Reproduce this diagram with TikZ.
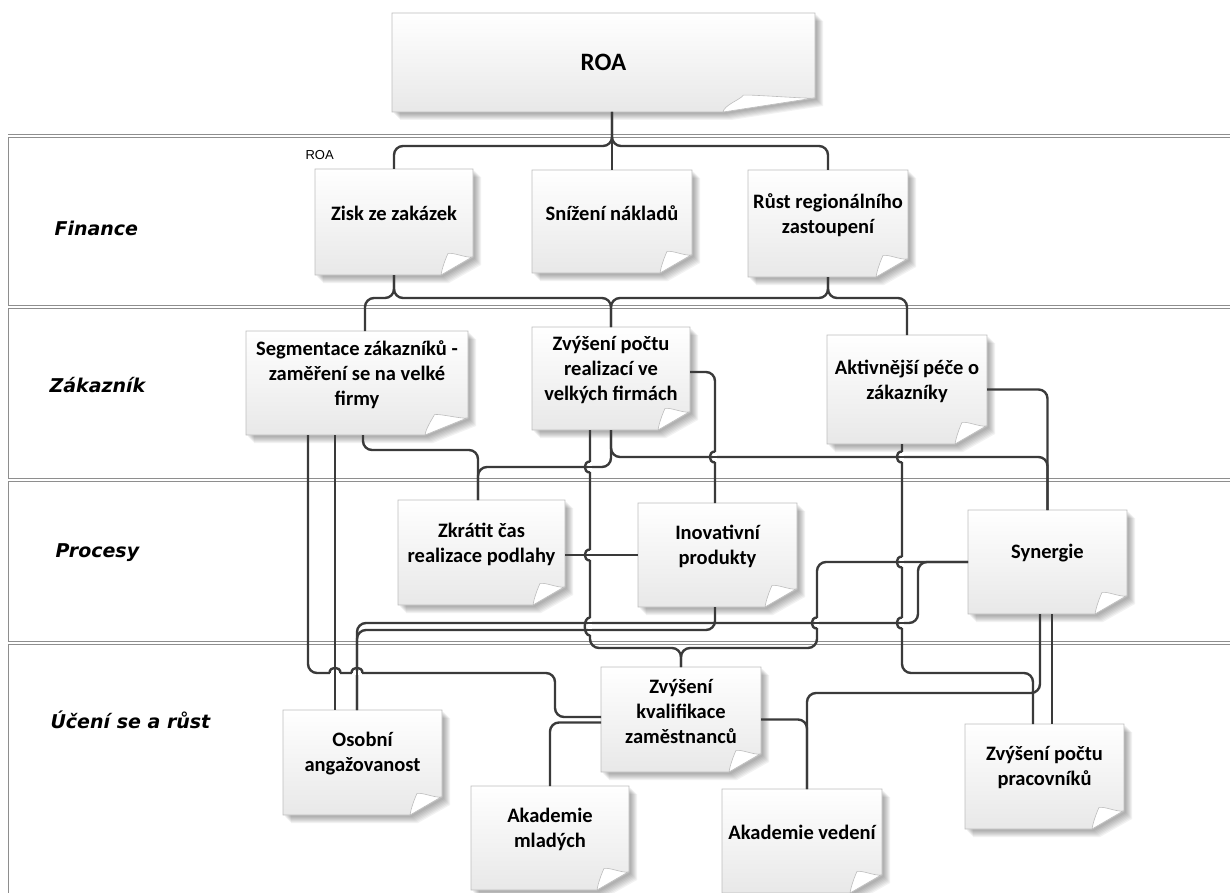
\documentclass[tikz,border=0pt]{standalone}
\usepackage{fontspec}
\setmainfont{Carlito}
\newfontfamily\lanefont{DejaVu Sans}
\newfontfamily\poolfont{Liberation Sans}
\usetikzlibrary{calc}
\pgfdeclarelayer{lanes}
\pgfdeclarelayer{paper}
\pgfsetlayers{lanes,paper,main}

\definecolor{wire}{HTML}{3A3A3A}
\definecolor{laneline}{HTML}{8E8E8E}
\definecolor{edge}{HTML}{BDBDBD}
\definecolor{shade}{HTML}{E8E8E8}

\tikzset{
  conn/.style={draw=wire, line width=2.4pt, rounded corners=9pt},
  stub/.style={draw=wire, line width=2.4pt},
  card/.style={inner sep=0pt, outer sep=0pt, align=center,
    font=\bfseries\fontsize{20.5}{25}\selectfont},
  lanetitle/.style={anchor=west,
    font=\lanefont\bfseries\itshape\fontsize{19}{22}\selectfont},
  lanesep/.style={draw=laneline, line width=0.7pt, double=white, double distance=2.6pt},
}

% a sticky-note card: name, centre x, centre y, width, height, text
\newcommand\card[6]{%
  \node[card, minimum width=#4pt, minimum height=#5pt] (#1) at (#2,#3)
    {\parbox{\dimexpr#4pt-6pt\relax}{\centering #6\par\vspace*{17pt}}};}

% paper, soft shadow and curled corner behind a card: name, fold width, fold height
\newcommand\paper[3]{%
  \begin{pgfonlayer}{paper}
    \foreach \s in {1,...,7}{
      \fill[black, opacity=0.05]
        ($(#1.north west)+({\s*1pt+1pt},{-\s*1pt-1pt})$) --
        ($(#1.north east)+({\s*1pt+1pt},{-\s*1pt-1pt})$) --
        ($(#1.south east)+({\s*1pt+1pt},{#3pt-\s*1pt-1pt})$) --
        ($(#1.south east)+({\s*1pt+1pt-#2pt},{-\s*1pt-1pt})$) --
        ($(#1.south west)+({\s*1pt+1pt},{-\s*1pt-1pt})$) -- cycle;
    }
    \shadedraw[top color=white, middle color=white, bottom color=shade, draw=edge, line width=0.8pt]
      (#1.north west) -- (#1.north east) -- ($(#1.south east)+(0pt,#3pt)$) --
      ($(#1.south east)+(-#2pt,0pt)$) -- (#1.south west) -- cycle;
    \filldraw[fill=white, draw=edge, line width=0.6pt]
      ($(#1.south east)+(-#2pt,0pt)$) .. controls +(1pt,7pt) and +(-2pt,-4pt) ..
      ($(#1.south east)+({-0.78*#2pt},{1.2*#3pt})$) .. controls +(6pt,1pt) and +(-6pt,-1pt) ..
      ($(#1.south east)+(-1pt,#3pt)$) -- cycle;
  \end{pgfonlayer}}

% line jumps: a vertical wire bowing left over horizontal wires at y=#2..#3
\newcommand\hopv[3]{%
  \fill[white] (#1-2.2,#2-5) rectangle (#1+2.2,#3+5);
  \draw[stub] (#1-2.6,#2) -- (#1+2.6,#2);
  \draw[stub] (#1-2.6,#3) -- (#1+2.6,#3);
  \draw[stub] (#1,#2-5.5) .. controls (#1-7,#2-5.5) and (#1-7,#3+5.5) .. (#1,#3+5.5);}
% a horizontal wire bowing upward over a vertical wire at x=#1
\newcommand\hoph[2]{%
  \fill[white] (#1-5,#2-2.2) rectangle (#1+5,#2+2.2);
  \draw[stub] (#1,#2-2.6) -- (#1,#2+2.6);
  \draw[stub] (#1-5.5,#2) .. controls (#1-5.5,#2-7) and (#1+5.5,#2-7) .. (#1+5.5,#2);}

\begin{document}
\begin{tikzpicture}[x=1pt,y=-1pt]
\useasboundingbox (0,0) rectangle (1230,893);

% swimlanes
\begin{pgfonlayer}{lanes}
  \draw[laneline, line width=0.8pt] (8,135) -- (8,893);
  \foreach \y in {136,307,480,643} \draw[lanesep] (8,\y) -- (1230,\y);
\end{pgfonlayer}

\node[lanetitle] (lfin) at (51,228) {Finance};
\node[lanetitle] (lzak) at (46,385) {Zákazník};
\node[lanetitle] (lpro) at (52,553) {Procesy};
\node[lanetitle] (lucen) at (47,720) {Účení se a růst};
\node[anchor=west, font=\poolfont\fontsize{13}{15}\selectfont] (pool) at (302,155) {ROA};

% cards
\node[card, minimum width=423pt, minimum height=99pt, font=\bfseries\fontsize{25}{30}\selectfont]
  (roa) at (603.5,62.5) {ROA};
\card{zisk}{394}{222}{158}{106}{Zisk ze zakázek}
\card{sniz}{612}{221.5}{160}{103}{Snížení nákladů}
\card{rust}{828}{223.5}{160}{107}{Růst regionálního\\zastoupení}
\card{segm}{357}{383}{222}{104}{Segmentace zákazníků -\\zaměření se na velké\\firmy}
\card{zvpo}{611}{378.5}{158}{103}{Zvýšení počtu\\realizací ve\\velkých firmách}
\card{aktiv}{907}{389.5}{160}{109}{Aktivnější péče o\\zákazníky}
\card{zkrat}{481.5}{552.5}{167}{105}{Zkrátit čas\\realizace podlahy}
\card{inov}{717.5}{555}{159}{104}{Inovativní\\produkty}
\card{syner}{1047.5}{562}{159}{104}{Synergie}
\card{kval}{681}{719.5}{160}{105}{Zvýšení\\kvalifikace\\zaměstnanců}
\card{osob}{362.5}{762.5}{159}{105}{Osobní\\angažovanost}
\card{akml}{550}{838}{158}{104}{Akademie\\mladých}
\card{akved}{802}{841}{160}{104}{Akademie vedení}
\card{prac}{1044.5}{776.5}{159}{105}{Zvýšení počtu\\pracovníků}

\paper{roa}{92}{14}
\paper{segm}{43}{17}
\foreach \n in {zisk,sniz,rust,zvpo,aktiv,zkrat,inov,syner,kval,osob,akml,akved,prac}
  {\paper{\n}{32}{18}}

% connectors
\draw[conn] (roa.south -| sniz.north) -- (sniz.north);
\draw[conn] (roa.south -| sniz.north) -- (612,146) -| (zisk.north);
\draw[conn] (roa.south -| sniz.north) -- (612,146) -| (rust.north);

\draw[conn] (zisk.south) -- (394,298) -| ([xshift=8pt]segm.north);
\draw[conn] (zisk.south) -- (394,298) -| (zvpo.north);
\draw[conn] (rust.south) -- (828,298) -| (zvpo.north);
\draw[conn] (rust.south) -- (828,298) -| (aktiv.north);

\draw[conn] ([xshift=6pt]segm.south) -- (363,450) -| ([xshift=-3.5pt]zkrat.north);
\draw[conn] (zvpo.south) -- (611,467) -| ([xshift=-3.5pt]zkrat.north);
\draw[conn] (zvpo.south) -- (611,457) -| (syner.north);
\draw[conn] (aktiv.east) -| (syner.north);
\draw[conn] ([yshift=6.5pt]zvpo.east) -| ([xshift=-2.5pt]inov.north);
\draw[conn] (zkrat.east |- inov.west) -- (inov.west);
\draw[conn] ([xshift=-21pt]zvpo.south) -- (590,648) -| (kval.north);
\draw[conn] (syner.west) -| (817,648) -| (kval.north);
\draw[conn] (syner.west) -| (918,623) -| ([xshift=-5.5pt]osob.north);
\draw[conn] ([xshift=-2.5pt]inov.south) -- (715,630) -| ([xshift=-5.5pt]osob.north);
\draw[conn] ([xshift=-22pt]segm.south) -- ([xshift=-27.5pt]osob.north);
\draw[conn] ([xshift=-49pt]segm.south) -- (308,673) -- (555,673) |- ([yshift=2.5pt]kval.west);
\draw[conn] ([yshift=-3pt]kval.west) -| (akml.north);
\draw[conn] (kval.east) -| ([xshift=5pt]akved.north);
\draw[conn] ([xshift=-7.5pt]syner.south) -- (1040,693) -| ([xshift=5pt]akved.north);
\draw[conn] ([xshift=7.5pt]prac.north |- syner.south) -- ([xshift=7.5pt]prac.north);
\draw[conn] ([xshift=-5pt]aktiv.south) -- (902,673) -| ([xshift=-11.5pt]prac.north);

% line jumps
\hopv{590}{467}{467}
\hopv{590}{555}{555}
\hopv{590}{623}{630}
\hopv{715}{457}{457}
\hopv{902}{457}{457}
\hopv{902}{562}{562}
\hopv{902}{623}{623}
\hopv{817}{623}{623}
\hoph{335}{673}
\hoph{357}{673}
\end{tikzpicture}
\end{document}
